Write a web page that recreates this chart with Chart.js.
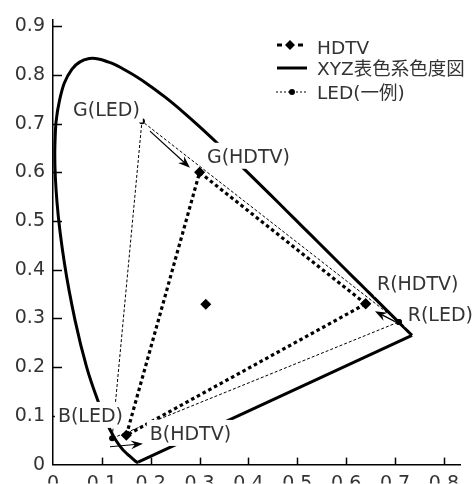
<!DOCTYPE html>
<html>
<head>
<meta charset="utf-8">
<script src="https://cdn.jsdelivr.net/npm/chart.js@4.4.1/dist/chart.umd.min.js"></script>
<style>
html,body{margin:0;padding:0;background:#fff;overflow:hidden;}
#wrap{width:476px;height:484px;position:relative;}
</style>
</head>
<body>
<div id="wrap"><canvas id="c"></canvas></div>
<script>
// CIE 1931 spectral locus (380..700 nm)
const locusX = [0.1741,0.1733,0.1714,0.1689,0.1644,0.1566,0.1510,0.1440,0.1355,0.1241,0.1096,0.0913,0.0687,0.0454,0.0235,0.0082,0.0039,0.0139,0.0389,0.0743,0.1142,0.1547,0.1929,0.2296,0.2658,0.3016,0.3373,0.3731,0.4087,0.4441,0.4788,0.5125,0.5448,0.5752,0.6029,0.6270,0.6482,0.6658,0.6801,0.6915,0.7079,0.7190,0.7260,0.7347];
const locusY = [0.0050,0.0048,0.0051,0.0069,0.0109,0.0177,0.0227,0.0297,0.0399,0.0578,0.0868,0.1327,0.2007,0.2950,0.4127,0.5384,0.6548,0.7502,0.8120,0.8338,0.8262,0.8059,0.7816,0.7543,0.7243,0.6923,0.6589,0.6245,0.5896,0.5547,0.5202,0.4866,0.4544,0.4242,0.3965,0.3725,0.3514,0.3340,0.3196,0.3083,0.2920,0.2809,0.2740,0.2653];
// purple line (700 nm -> 380 nm)
const purpleX = [0.7347,0.1741];
const purpleY = [0.2653,0.0050];
// HDTV primaries R, G, B (closed)
const hdtvX = [0.64,0.30,0.15,0.64];
const hdtvY = [0.33,0.60,0.06,0.33];
// white point
const whiteX = [0.3127];
const whiteY = [0.3290];
// LED example primaries R, G, B (closed)
const ledX = [0.708,0.182,0.121,0.708];
const ledY = [0.293,0.705,0.054,0.293];
// axis ticks
const xTicks = [0.1,0.2,0.3,0.4,0.5,0.6,0.7,0.8];
const yTicks = [0.1,0.2,0.3,0.4,0.5,0.6,0.7,0.8,0.9];
// legend texts
const legendNames = ["HDTV","XYZ表色系色度図","LED(一例)"];
// point label texts and their anchors (data coords, left / middle)
const labelTexts = ["G(LED)","G(HDTV)","R(HDTV)","R(LED)","B(LED)","B(HDTV)"];
const labelX = [0.041,0.315,0.663,0.726,0.010,0.198];
const labelY = [0.729,0.634,0.372,0.309,0.102,0.065];
// arrows LED -> HDTV (data coords)
const arrowFromX = [0.1985,0.706,0.1166];
const arrowFromY = [0.6847,0.2905,0.0366];
const arrowToX = [0.2803,0.659,0.184];
const arrowToY = [0.6095,0.315,0.0427];

const FONT = "'DejaVu Sans','Noto Sans CJK JP',sans-serif";
const TXT = '#333';
const pts = (xs, ys) => xs.map((x, i) => ({x: x, y: ys[i]}));

function drawText(ctx, text, x, yc, size) {
  ctx.font = size + 'px ' + FONT;
  ctx.textBaseline = 'alphabetic';
  ctx.textAlign = 'left';
  ctx.fillStyle = TXT;
  ctx.fillText(text, x, yc + 0.3645 * size);
}

function arrow(ctx, x1, y1, x2, y2) {
  const a = Math.atan2(y2 - y1, x2 - x1);
  const L = 12, W = 4.5, N = 8;
  ctx.save();
  ctx.strokeStyle = '#000'; ctx.fillStyle = '#000'; ctx.lineWidth = 1.2;
  ctx.setLineDash([]);
  ctx.beginPath();
  ctx.moveTo(x1, y1);
  ctx.lineTo(x2 - Math.cos(a) * N, y2 - Math.sin(a) * N);
  ctx.stroke();
  ctx.translate(x2, y2); ctx.rotate(a);
  ctx.beginPath();
  ctx.moveTo(0, 0); ctx.lineTo(-L, -W); ctx.lineTo(-N, 0); ctx.lineTo(-L, W);
  ctx.closePath(); ctx.fill();
  ctx.restore();
}

const overlay = {
  id: 'overlay',
  afterDraw(chart) {
    const ctx = chart.ctx, xs = chart.scales.x, ys = chart.scales.y;
    const area = chart.chartArea;
    ctx.save();
    // inward tick marks
    ctx.strokeStyle = '#000'; ctx.lineWidth = 1.5; ctx.setLineDash([]);
    yTicks.forEach(v => {
      const py = Math.round(ys.getPixelForValue(v)) + 0.5;
      ctx.beginPath(); ctx.moveTo(area.left, py); ctx.lineTo(area.left + 9, py); ctx.stroke();
    });
    xTicks.forEach(v => {
      const px = Math.round(xs.getPixelForValue(v)) + 0.5;
      ctx.beginPath(); ctx.moveTo(px, area.bottom); ctx.lineTo(px, area.bottom - 7); ctx.stroke();
    });
    // arrows
    for (let i = 0; i < arrowFromX.length; i++) {
      arrow(ctx, xs.getPixelForValue(arrowFromX[i]), ys.getPixelForValue(arrowFromY[i]),
                 xs.getPixelForValue(arrowToX[i]), ys.getPixelForValue(arrowToY[i]));
    }
    // labels with white boxes
    const LS = 19;
    labelTexts.forEach((t, i) => {
      const px = xs.getPixelForValue(labelX[i]);
      const py = ys.getPixelForValue(labelY[i]);
      ctx.font = LS + 'px ' + FONT;
      const w = ctx.measureText(t).width;
      ctx.fillStyle = '#fff';
      ctx.fillRect(px - 3, py - 13, w + 6, 26);
      drawText(ctx, t, px, py, LS);
    });
    // legend
    const lx = 277, tx = 317, rows = [45, 68, 91.5];
    ctx.strokeStyle = '#000'; ctx.fillStyle = '#000';
    // HDTV sample
    ctx.lineWidth = 3; ctx.setLineDash([]);
    ctx.beginPath(); ctx.moveTo(lx, rows[0]); ctx.lineTo(lx + 5, rows[0]); ctx.stroke();
    ctx.beginPath(); ctx.moveTo(lx + 21, rows[0]); ctx.lineTo(lx + 26, rows[0]); ctx.stroke();
    ctx.beginPath();
    ctx.moveTo(lx + 13, rows[0] - 5); ctx.lineTo(lx + 18, rows[0]); ctx.lineTo(lx + 13, rows[0] + 5); ctx.lineTo(lx + 8, rows[0]);
    ctx.closePath(); ctx.fill();
    // XYZ sample
    ctx.lineWidth = 3;
    ctx.beginPath(); ctx.moveTo(lx, rows[1]); ctx.lineTo(lx + 30, rows[1]); ctx.stroke();
    // LED sample
    ctx.lineWidth = 1; ctx.setLineDash([2, 2]);
    ctx.beginPath(); ctx.moveTo(lx - 1, rows[2] + 0.5); ctx.lineTo(lx + 30, rows[2] + 0.5); ctx.stroke();
    ctx.setLineDash([]);
    ctx.beginPath(); ctx.arc(lx + 15, rows[2] + 0.5, 3, 0, Math.PI * 2); ctx.fill();
    legendNames.forEach((t, i) => drawText(ctx, t, tx, rows[i] + (i === 0 ? 2 : 0.5), 18.5));
    ctx.restore();
  }
};

new Chart(document.getElementById('c'), {
  type: 'scatter',
  data: {
    datasets: [
      { data: pts(hdtvX, hdtvY), showLine: true, borderColor: '#000', borderWidth: 3.2,
        borderDash: [3.5, 3], pointStyle: 'rectRot', pointRadius: 5.5, pointBackgroundColor: '#000',
        pointBorderWidth: 0, order: 1 },
      { data: pts(whiteX, whiteY), showLine: false, pointStyle: 'rectRot', pointRadius: 5.5,
        pointBackgroundColor: '#000', pointBorderWidth: 0, order: 1 },
      { data: pts(ledX, ledY), showLine: true, borderColor: '#000', borderWidth: 1,
        borderDash: [3, 2], pointStyle: 'circle', pointRadius: 3, pointBackgroundColor: '#000',
        pointBorderWidth: 0, order: 2 },
      { data: pts(locusX, locusY), showLine: true, borderColor: '#000', borderWidth: 3,
        pointRadius: 0, tension: 0.4, order: 3 },
      { data: pts(purpleX, purpleY), showLine: true, borderColor: '#000', borderWidth: 3,
        pointRadius: 0, tension: 0, order: 3 }
    ]
  },
  options: {
    responsive: true, maintainAspectRatio: false, animation: false, devicePixelRatio: 1,
    layout: { padding: { top: 15, right: 16, left: 0, bottom: 0 } },
    plugins: { legend: { display: false }, tooltip: { enabled: false } },
    scales: {
      x: {
        type: 'linear', min: 0, max: 0.833,
        afterFit(s) { s.height = 19; },
        grid: { drawOnChartArea: false, drawTicks: false },
        border: { display: true, color: '#000', width: 1.5 },
        ticks: { stepSize: 0.1, includeBounds: false, padding: 8, color: TXT,
                 font: { family: FONT, size: 19 },
                 callback: v => (Math.abs(v) < 1e-9 ? '0' : v.toFixed(1)) }
      },
      y: {
        type: 'linear', min: 0, max: 0.914,
        afterFit(s) { s.width = 53; },
        grid: { drawOnChartArea: false, drawTicks: false },
        border: { display: true, color: '#000', width: 1.5 },
        ticks: { stepSize: 0.1, includeBounds: false, padding: 8, color: TXT,
                 font: { family: FONT, size: 19 },
                 callback: v => (Math.abs(v) < 1e-9 ? '0' : v.toFixed(1)) }
      }
    }
  },
  plugins: [overlay]
});
</script>
</body>
</html>
